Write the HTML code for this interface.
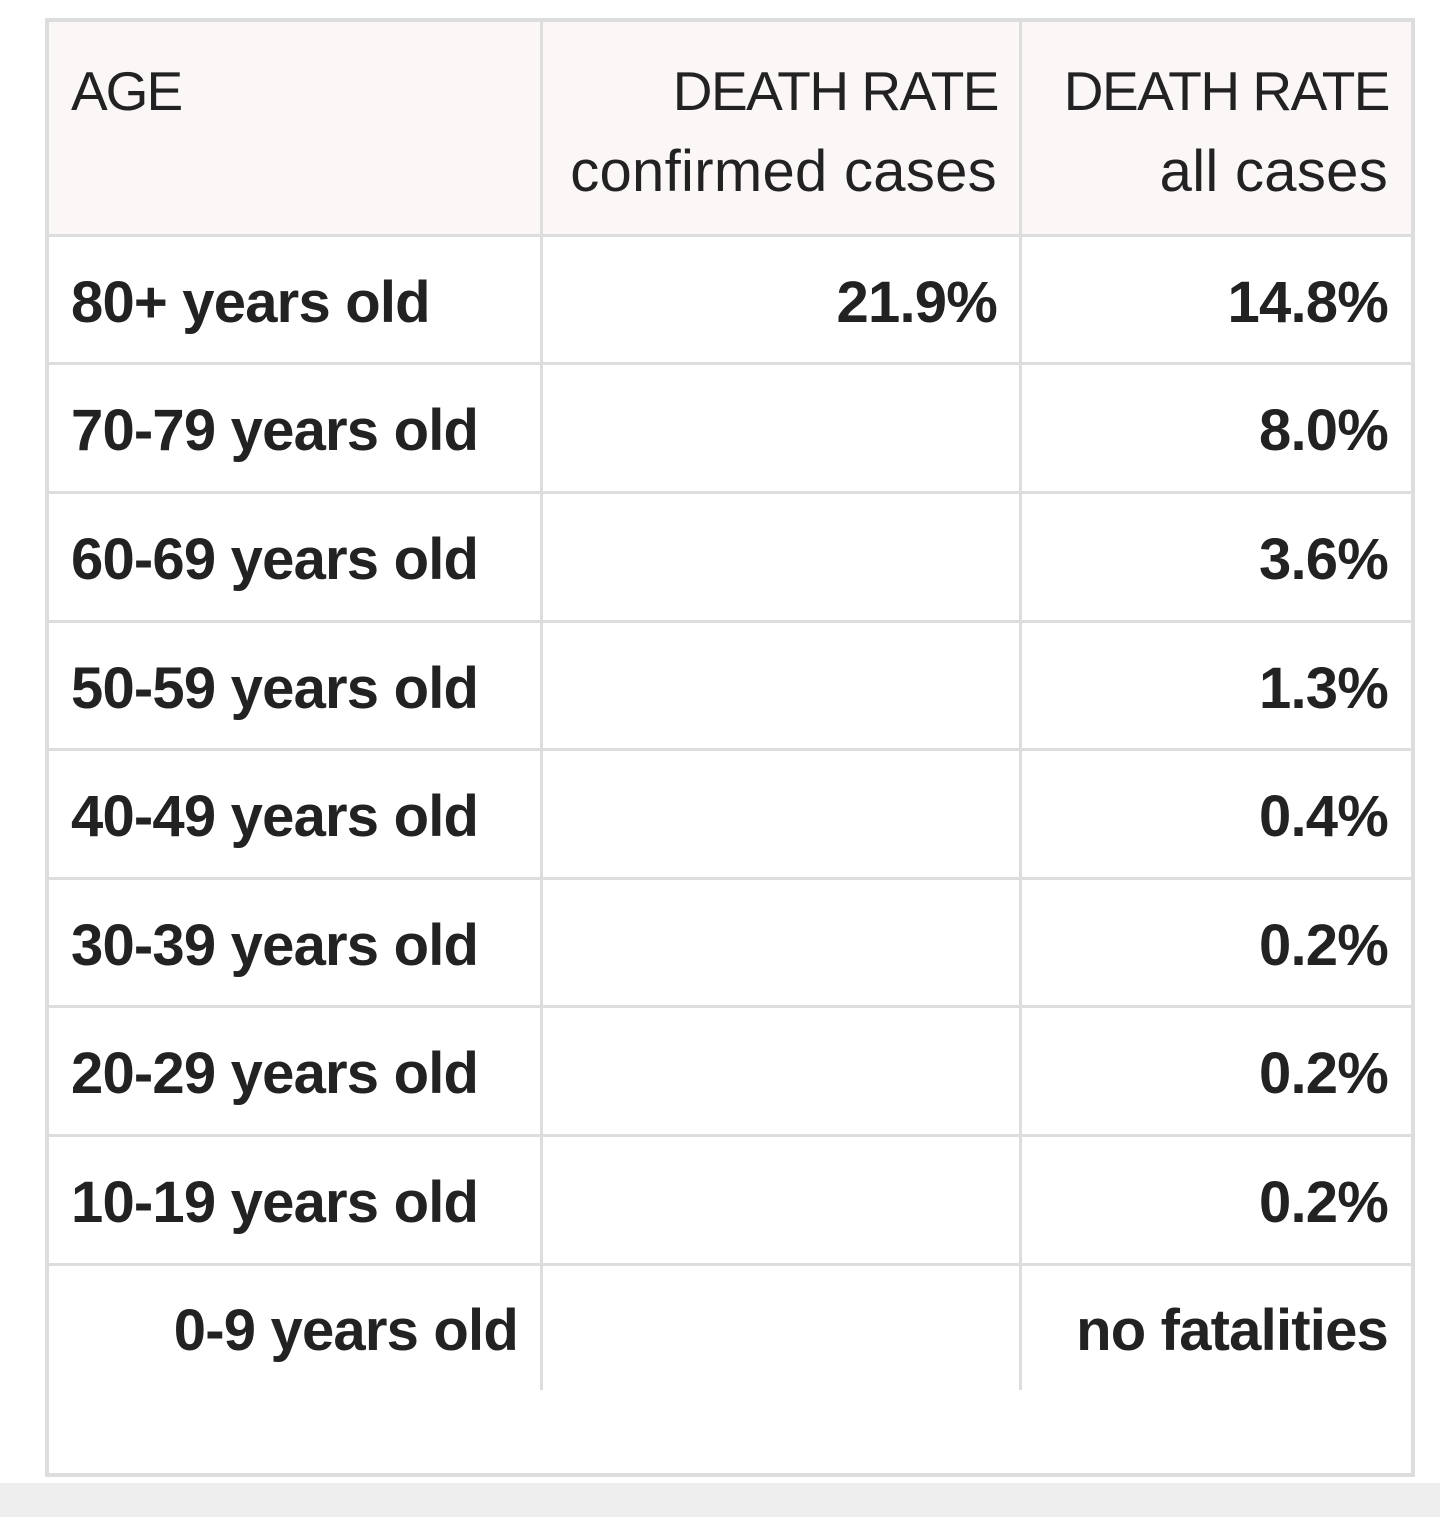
<!DOCTYPE html>
<html><head><style>
body{margin:0;width:1440px;height:1517px;background:#fff;position:relative;overflow:hidden;font-family:"Liberation Sans",Arial,sans-serif;color:#222}
.box{position:absolute;left:45px;top:18px;width:1362px;height:1451px;border:4px solid #ddd;background:#fff}
.hdr{position:absolute;left:49px;top:22px;width:1362px;height:213px;background:#faf7f6}
.h{position:absolute;left:49px;width:1362px;height:3px;background:#ddd}
.v{position:absolute;top:22px;width:3px;height:1368px;background:#ddd}
.t{position:absolute;font-size:58px;letter-spacing:-0.8px;white-space:nowrap;line-height:1}
.b{font-weight:bold}
.r{text-align:right}
.cap{font-size:55px;letter-spacing:-1.5px}
.low{letter-spacing:0.3px}
.gray{position:absolute;left:0;top:1483px;width:1440px;height:34px;background:#eee}
</style></head><body>
<div class="box"></div>
<div class="hdr"></div>
<div class="v" style="left:540px"></div>
<div class="v" style="left:1019px"></div>
<div class="h" style="top:234px"></div>
<div class="h" style="top:362px"></div>
<div class="h" style="top:491px"></div>
<div class="h" style="top:620px"></div>
<div class="h" style="top:748px"></div>
<div class="h" style="top:877px"></div>
<div class="h" style="top:1005px"></div>
<div class="h" style="top:1134px"></div>
<div class="h" style="top:1263px"></div>
<div class="gray"></div>

<div class="t cap" style="left:71px;top:64px;letter-spacing:-2px">AGE</div>
<div class="t r cap" style="right:442px;top:64px">DEATH RATE</div>
<div class="t r low" style="right:443px;top:143px">confirmed cases</div>
<div class="t r cap" style="right:51px;top:64px">DEATH RATE</div>
<div class="t r low" style="right:52px;top:143px">all cases</div>

<div class="t b" style="left:71px;top:274px">80+ years old</div>
<div class="t b r" style="right:443px;top:274px">21.9%</div>
<div class="t b r" style="right:52px;top:274px">14.8%</div>

<div class="t b" style="left:71px;top:402px">70-79 years old</div>
<div class="t b r" style="right:52px;top:402px">8.0%</div>
<div class="t b" style="left:71px;top:531px">60-69 years old</div>
<div class="t b r" style="right:52px;top:531px">3.6%</div>
<div class="t b" style="left:71px;top:660px">50-59 years old</div>
<div class="t b r" style="right:52px;top:660px">1.3%</div>
<div class="t b" style="left:71px;top:788px">40-49 years old</div>
<div class="t b r" style="right:52px;top:788px">0.4%</div>
<div class="t b" style="left:71px;top:917px">30-39 years old</div>
<div class="t b r" style="right:52px;top:917px">0.2%</div>
<div class="t b" style="left:71px;top:1045px">20-29 years old</div>
<div class="t b r" style="right:52px;top:1045px">0.2%</div>
<div class="t b" style="left:71px;top:1174px">10-19 years old</div>
<div class="t b r" style="right:52px;top:1174px">0.2%</div>
<div class="t b r" style="right:922px;top:1302px">0-9 years old</div>
<div class="t b r" style="right:52px;top:1302px">no fatalities</div>
</body></html>
